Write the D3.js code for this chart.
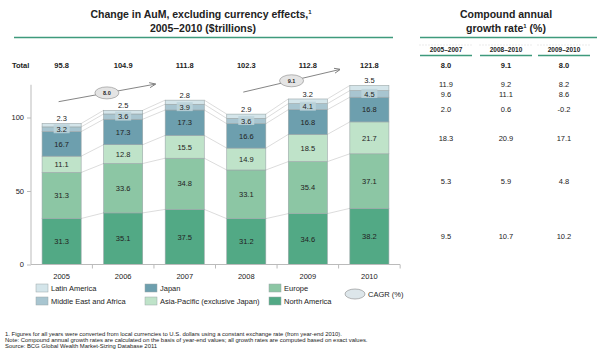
<!DOCTYPE html>
<meta charset="utf-8">
<style>
body { margin: 0; background: #fff; }
text { font-family: "Liberation Sans", Arial, sans-serif; fill: #222; }
.seg { font-size: 7.5px; }
.bold { font-weight: bold; }
</style>
<svg width="597" height="352"></svg>
<script src="https://d3js.org/d3.v7.min.js"></script>
<script>

// data
var years = ["2005", "2006", "2007", "2008", "2009", "2010"];
var regions = ["North America", "Europe", "Asia-Pacific (exclusive Japan)", "Japan", "Middle East and Africa", "Latin America"];
var northAmerica = [31.3, 35.1, 37.5, 31.2, 34.6, 38.2];
var europe = [31.3, 33.6, 34.8, 33.1, 35.4, 37.1];
var asiaPacific = [11.1, 12.8, 15.5, 14.9, 18.5, 21.7];
var japan = [16.7, 17.3, 17.3, 16.6, 16.8, 16.8];
var middleEast = [3.2, 3.6, 3.9, 3.6, 4.1, 4.5];
var latinAmerica = [2.3, 2.5, 2.8, 2.9, 3.2, 3.5];
var totals = ["95.8", "104.9", "111.8", "102.3", "112.8", "121.8"];
var yTicks = [0, 50, 100];

var cagrPeriods = ["2005\u20132007", "2008\u20132010", "2009\u20132010"];
var cagrTotal = ["8.0", "9.1", "8.0"];
var cagrLatin = ["11.9", "9.2", "8.2"];
var cagrMiddle = ["9.6", "11.1", "8.6"];
var cagrJapan = ["2.0", "0.6", "-0.2"];
var cagrAsia = ["18.3", "20.9", "17.1"];
var cagrEurope = ["5.3", "5.9", "4.8"];
var cagrNorth = ["9.5", "10.7", "10.2"];
// arrows: [from year, to year, cagr label]
var cagrArrows = [["2005", "2007", "8.0"], ["2008", "2010", "9.1"]];

var colors = ["#52a985", "#8cc6a4", "#bfe3c9", "#6d9fae", "#a8c5d0", "#d4e5ea"];
var series = [northAmerica, europe, asiaPacific, japan, middleEast, latinAmerica];

var svg = d3.select("svg");

var x = d3.scaleBand().domain(years).range([31, 400]).paddingInner(0.365).paddingOuter(0.18);
var y = d3.scaleLinear().domain([0, 100]).range([264.5, 117.5]);
var bw = x.bandwidth();

// stacked rows
var rows = years.map(function(yr, i) {
  var r = { year: yr };
  regions.forEach(function(k, j) { r[k] = series[j][i]; });
  return r;
});
var stack = d3.stack().keys(regions)(rows);

// connector lines between bars
var conn = svg.append("g").attr("stroke", "#c4c4c4").attr("stroke-width", 0.6);
stack.forEach(function(layer) {
  for (var i = 0; i < years.length - 1; i++) {
    conn.append("line")
      .attr("x1", x(years[i]) + bw).attr("y1", y(layer[i][1]))
      .attr("x2", x(years[i + 1])).attr("y2", y(layer[i + 1][1]));
  }
});

// titles
svg.append("text").attr("class", "bold").attr("x", 201).attr("y", 18).attr("text-anchor", "middle")
  .attr("font-size", 10.5).html("Change in AuM, excluding currency effects,<tspan dy='-4' font-size='6'>1</tspan>");
svg.append("text").attr("class", "bold").attr("x", 203).attr("y", 32).attr("text-anchor", "middle")
  .attr("font-size", 10.5).text("2005\u20132010 ($trillions)");
svg.append("line").attr("x1", 14).attr("x2", 393).attr("y1", 37.5).attr("y2", 37.5)
  .attr("stroke", "#3f9a7c").attr("stroke-width", 1.5);

svg.append("text").attr("class", "bold").attr("x", 506).attr("y", 18).attr("text-anchor", "middle")
  .attr("font-size", 10.5).text("Compound annual");
svg.append("text").attr("class", "bold").attr("x", 506).attr("y", 32).attr("text-anchor", "middle")
  .attr("font-size", 10.5).html("growth rate<tspan dy='-4' font-size='6'>1</tspan><tspan dy='4'> (%)</tspan>");
svg.append("line").attr("x1", 420).attr("x2", 597).attr("y1", 37.5).attr("y2", 37.5)
  .attr("stroke", "#3f9a7c").attr("stroke-width", 1.5);

// totals row
svg.append("text").attr("class", "bold").attr("x", 12).attr("y", 68).attr("font-size", 7.5).text("Total");
svg.append("g").selectAll("text").data(totals).enter().append("text")
  .attr("class", "bold").attr("font-size", 7.5).attr("text-anchor", "middle")
  .attr("x", function(d, i) { return x(years[i]) + bw / 2; })
  .attr("y", 68).text(function(d) { return d; });

// bars
var bars = svg.append("g");
stack.forEach(function(layer, j) {
  bars.append("g").selectAll("rect").data(layer).enter().append("rect")
    .attr("x", function(d) { return x(d.data.year); })
    .attr("y", function(d) { return y(d[1]); })
    .attr("width", bw)
    .attr("height", function(d) { return y(d[0]) - y(d[1]); })
    .attr("fill", colors[j])
    .attr("stroke", "#9aa6a8").attr("stroke-width", 0.6);
});

// segment labels
var labels = svg.append("g");
stack.forEach(function(layer, j) {
  layer.forEach(function(d, i) {
    var cx = x(d.data.year) + bw / 2, cy;
    var v = series[j][i].toFixed(1);
    if (j === 5) cy = y(d[1]) - 5;
    else cy = (y(d[0]) + y(d[1])) / 2;
    if (j === 4) {
      labels.append("rect").attr("x", cx - 8).attr("y", cy - 5).attr("width", 16).attr("height", 9)
        .attr("fill", "#bcd3db").attr("opacity", 0.85);
    }
    labels.append("text").attr("class", "seg").attr("x", cx).attr("y", cy + 2.7)
      .attr("text-anchor", "middle").text(v);
  });
});

// axes
var yAxis = svg.append("g").attr("transform", "translate(31,0)")
  .call(d3.axisLeft(y).tickValues(yTicks).tickSize(4));
yAxis.select(".domain").attr("d", "M0," + y(0) + "V" + (y(125) + 4)).attr("stroke", "#bbb");
yAxis.selectAll("line").attr("stroke", "#bbb");
yAxis.selectAll("text").attr("font-size", 7.5).attr("fill", "#222").attr("font-family", "Liberation Sans, Arial");

var xAxis = svg.append("g").attr("transform", "translate(0," + y(0) + ")");
xAxis.append("line").attr("x1", 31).attr("x2", 400).attr("stroke", "#bbb");
years.forEach(function(yr) {
  var bx = x(yr) + bw + x.step() * 0.365 / 2;
  xAxis.append("line").attr("x1", bx).attr("x2", bx).attr("y1", 0).attr("y2", 4).attr("stroke", "#bbb");
  xAxis.append("text").attr("x", x(yr) + bw / 2).attr("y", 14).attr("text-anchor", "middle")
    .attr("font-size", 7.5).text(yr);
});

// CAGR arrows
svg.append("defs").append("marker").attr("id", "arr").attr("viewBox", "0 0 10 10")
  .attr("refX", 9).attr("refY", 5).attr("markerWidth", 7).attr("markerHeight", 7).attr("orient", "auto")
  .append("path").attr("d", "M0,1L10,5L0,9").attr("fill", "none").attr("stroke", "#777").attr("stroke-width", 1.4);
function totalsNum(yr) { return +totals[years.indexOf(yr)]; }
cagrArrows.forEach(function(a) {
  var x1 = x(a[0]) + bw / 2 - 3, y1 = y(totalsNum(a[0])) - 22;
  var x2 = x(a[1]) - 10, y2 = y(totalsNum(a[1])) - 16;
  svg.append("line").attr("x1", x1).attr("y1", y1).attr("x2", x2).attr("y2", y2)
    .attr("stroke", "#777").attr("stroke-width", 0.9).attr("marker-end", "url(#arr)");
  var mx = (x1 + x2) / 2, my = (y1 + y2) / 2;
  svg.append("ellipse").attr("cx", mx).attr("cy", my).attr("rx", 12).attr("ry", 6)
    .attr("fill", "#e4e4e4").attr("stroke", "#888").attr("stroke-width", 0.6);
  svg.append("text").attr("class", "bold").attr("x", mx).attr("y", my + 2).attr("text-anchor", "middle")
    .attr("font-size", 5.5).text(a[2]);
});

// CAGR table
var cx = [446, 506, 564];
var hdr = svg.append("g");
cagrPeriods.forEach(function(p, i) {
  hdr.append("line").attr("x1", cx[i] - 27).attr("x2", cx[i] + 27).attr("y1", 45).attr("y2", 45)
    .attr("stroke", "#ddd").attr("stroke-width", 0.6).attr("stroke-dasharray", "2,1");
  hdr.append("text").attr("class", "bold").attr("x", cx[i]).attr("y", 52).attr("text-anchor", "middle")
    .attr("font-size", 6.5).attr("fill", "#333").text(p);
  hdr.append("line").attr("x1", cx[i] - 26).attr("x2", cx[i] + 26).attr("y1", 55.5).attr("y2", 55.5)
    .attr("stroke", "#3f9a7c").attr("stroke-width", 1.6);
});
var last = years.length - 1;
function mid(j) { return (y(stack[j][last][0]) + y(stack[j][last][1])) / 2; }
var tableRows = [
  [cagrTotal, 65.5, true],
  [cagrLatin, y(stack[5][last][1]) - 1.5, false],
  [cagrMiddle, mid(4), false],
  [cagrJapan, mid(3), false],
  [cagrAsia, mid(2), false],
  [cagrEurope, mid(1), false],
  [cagrNorth, mid(0), false]
];
tableRows.forEach(function(r) {
  r[0].forEach(function(v, i) {
    svg.append("text").attr("x", cx[i]).attr("y", r[1] + 2.7).attr("text-anchor", "middle")
      .attr("font-size", 7.5).attr("font-weight", r[2] ? "bold" : "normal").text(v);
  });
});

// legend
var legendItems = [[5, 36, 288], [3, 145, 288], [1, 269, 288], [4, 36, 301], [2, 145, 301], [0, 269, 301]];
var lg = svg.append("g");
legendItems.forEach(function(it) {
  lg.append("rect").attr("x", it[1]).attr("y", it[2] - 4).attr("width", 12).attr("height", 8)
    .attr("fill", colors[it[0]]).attr("stroke", "#9aa6a8").attr("stroke-width", 0.5);
  lg.append("text").attr("x", it[1] + 15).attr("y", it[2] + 3).attr("font-size", 7.5).text(regions[it[0]]);
});
lg.append("ellipse").attr("cx", 355).attr("cy", 294).attr("rx", 10).attr("ry", 5)
  .attr("fill", "#dde6ea").attr("stroke", "#888").attr("stroke-width", 0.6);
lg.append("text").attr("x", 368).attr("y", 297).attr("font-size", 7.5).text("CAGR (%)");

// footnotes
var notes = [
  "1. Figures for all years were converted from local currencies to U.S. dollars using a constant exchange rate (from year-end 2010).",
  "Note: Compound annual growth rates are calculated on the basis of year-end values; all growth rates are computed based on exact values.",
  "Source: BCG Global Wealth Market-Sizing Database 2011"
];
svg.append("g").selectAll("text").data(notes).enter().append("text")
  .attr("x", 5).attr("y", function(d, i) { return 336 + i * 6; })
  .attr("font-size", 5.9).attr("fill", "#333").text(function(d) { return d; });

</script>
